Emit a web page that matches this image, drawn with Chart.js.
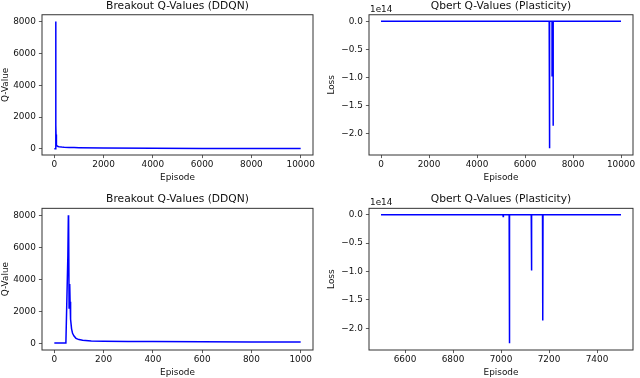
<!DOCTYPE html>
<html>
<head>
<meta charset="utf-8">
<title>Q-Values</title>
<script src="https://cdn.jsdelivr.net/npm/chart.js@4"></script>
<style>
  body { margin: 0; background: #fff; }
  #wrap { position: relative; width: 640px; height: 378px; overflow: hidden; background: #fff; }
  canvas { position: absolute; }
</style>
</head>
<body>
<div id="wrap">
  <canvas id="breakout-full" width="320" height="190" style="left:0;top:0"></canvas>
  <canvas id="qbert-full" width="320" height="190" style="left:320px;top:0"></canvas>
  <canvas id="breakout-zoom" width="320" height="193" style="left:0;top:185px"></canvas>
  <canvas id="qbert-zoom" width="320" height="193" style="left:320px;top:185px"></canvas>
</div>
<script>
'use strict';

// ******* DATA *******
let breakoutEpisodes = [0, 47, 55, 57, 58, 60, 62, 63, 64, 66, 70, 74, 80, 88, 100, 115, 150, 200, 300, 400, 600, 800, 1000, 2000, 4000, 6000, 8000, 10000];
let breakoutQ = [15, 15, 5500, 8000, 7800, 2200, 3000, 3700, 2600, 1500, 900, 620, 450, 310, 230, 190, 150, 130, 115, 105, 95, 85, 75, 55, 40, 32, 28, 25];

let qbertEpisodes = [0, 6500, 7008, 7009, 7010, 7034, 7035, 7036, 7126, 7127, 7128, 7173, 7174, 7175, 7500, 10000];
let qbertLoss = [0, 0, 0, -0.03e14, 0, 0, -2.26e14, 0, 0, -0.98e14, 0, 0, -1.86e14, 0, 0, 0];

// tick labels
let breakoutTicksY = [0, 2000, 4000, 6000, 8000];
let qbertTicksY = [-2.0e14, -1.5e14, -1.0e14, -0.5e14, 0];
let fullTicksX = [0, 2000, 4000, 6000, 8000, 10000];
let breakoutZoomTicksX = [0, 200, 400, 600, 800, 1000];
let qbertZoomTicksX = [6600, 6800, 7000, 7200, 7400];

// ***** HELPERS *****
Chart.defaults.font.family = 'DejaVu Sans';
Chart.defaults.color = '#111';

function makePoints(xs, ys, lo, hi) {
  let pts = [];
  for (let i = 0; i < xs.length; i++) {
    if (xs[i] >= lo && xs[i] <= hi) {
      pts.push({ x: xs[i], y: ys[i] });
    }
  }
  return pts;
}

function fixedTicks(values) {
  return function (scale) {
    scale.ticks = values.map(v => ({ value: v }));
  };
}

function plainNumber(v) {
  return String(v);
}

function sciNumber(v) {
  return (v / 1e14).toFixed(1).replace('-', '\u2212');
}

// box around the plot area, like matplotlib spines
const frame = {
  id: 'frame',
  afterDraw(chart) {
    let a = chart.chartArea;
    let ctx = chart.ctx;
    ctx.save();
    ctx.strokeStyle = '#333';
    ctx.lineWidth = 1;
    ctx.strokeRect(a.left, a.top, a.right - a.left, a.bottom - a.top);
    ctx.restore();
  }
};

// "1e14" offset label above the y axis
const offsetText = {
  id: 'offsetText',
  afterDraw(chart, args, opts) {
    if (!opts.text) return;
    let a = chart.chartArea;
    let ctx = chart.ctx;
    ctx.save();
    ctx.fillStyle = '#111';
    ctx.font = '8.9px "DejaVu Sans"';
    ctx.textAlign = 'left';
    ctx.textBaseline = 'middle';
    ctx.fillText(opts.text, a.left + 1, a.top - 5.5);
    ctx.restore();
  }
};

function renderPanel(id, p) {
  const config = {
    type: 'line',
    data: {
      datasets: [{
        data: p.points,
        borderColor: 'rgb(0, 0, 255)',
        borderWidth: 1.5,
        pointRadius: 0,
        tension: 0,
        fill: false
      }]
    },
    options: {
      responsive: false,
      animation: false,
      events: [],
      layout: { padding: { left: 0, right: 7, top: 0, bottom: p.padBottom } },
      plugins: {
        legend: { display: false },
        tooltip: { enabled: false },
        title: {
          display: true,
          text: p.title,
          fullSize: false,
          color: '#111',
          font: { size: 10.7, weight: 'normal' },
          padding: { top: p.titleTop, bottom: p.titleBottom }
        },
        offsetText: { text: p.offset || '' }
      },
      scales: {
        x: {
          type: 'linear',
          min: p.xMin,
          max: p.xMax,
          afterBuildTicks: fixedTicks(p.xTicks),
          afterFit: s => { s.height = 28; },
          border: { display: false },
          grid: { drawOnChartArea: false, drawTicks: true, tickLength: 3.1, tickColor: '#333', tickWidth: 0.8 },
          ticks: { padding: 1.2, font: { size: 8.9 }, maxRotation: 0, autoSkip: false, callback: plainNumber },
          title: { display: true, text: 'Episode', font: { size: 8.9 }, padding: { top: 0, bottom: 0 } }
        },
        y: {
          type: 'linear',
          min: p.yMin,
          max: p.yMax,
          afterBuildTicks: fixedTicks(p.yTicks),
          afterFit: s => { s.width = p.yWidth; },
          border: { display: false },
          grid: { drawOnChartArea: false, drawTicks: true, tickLength: 3.1, tickColor: '#333', tickWidth: 0.8 },
          ticks: { padding: 3.1, font: { size: 8.9 }, autoSkip: false, callback: p.format },
          title: { display: true, text: p.yTitle, font: { size: 8.9 }, padding: { top: p.yTitlePad, bottom: 0 } }
        }
      }
    },
    plugins: [frame, offsetText]
  };
  return new Chart(document.getElementById(id), config);
}

// **** EXECUTABLE CODE *****

renderPanel('breakout-full', {
  title: 'Breakout Q-Values (DDQN)', yTitle: 'Q-Value',
  points: makePoints(breakoutEpisodes, breakoutQ, 0, 10000),
  xMin: -500, xMax: 10500, xTicks: fullTicksX,
  yMin: -380, yMax: 8430, yTicks: breakoutTicksY, format: plainNumber,
  yWidth: 42, yTitlePad: 0, titleTop: 0, titleBottom: 1.9, padBottom: 7
});

renderPanel('qbert-full', {
  title: 'Qbert Q-Values (Plasticity)', yTitle: 'Loss', offset: '1e14',
  points: makePoints(qbertEpisodes, qbertLoss, 0, 10000),
  xMin: -500, xMax: 10500, xTicks: fullTicksX,
  yMin: -2.38e14, yMax: 0.118e14, yTicks: qbertTicksY, format: sciNumber,
  yWidth: 49, yTitlePad: 6.2, titleTop: 0, titleBottom: 1.9, padBottom: 7
});

renderPanel('breakout-zoom', {
  title: 'Breakout Q-Values (DDQN)', yTitle: 'Q-Value',
  points: makePoints(breakoutEpisodes, breakoutQ, 0, 1000),
  xMin: -50, xMax: 1050, xTicks: breakoutZoomTicksX,
  yMin: -420, yMax: 8430, yTicks: breakoutTicksY, format: plainNumber,
  yWidth: 42, yTitlePad: 0, titleTop: 7.6, titleBottom: 2.9, padBottom: 0
});

renderPanel('qbert-zoom', {
  title: 'Qbert Q-Values (Plasticity)', yTitle: 'Loss', offset: '1e14',
  points: makePoints(qbertEpisodes, qbertLoss, 6500, 7500),
  xMin: 6450, xMax: 7550, xTicks: qbertZoomTicksX,
  yMin: -2.38e14, yMax: 0.113e14, yTicks: qbertTicksY, format: sciNumber,
  yWidth: 49, yTitlePad: 6.2, titleTop: 7.6, titleBottom: 2.9, padBottom: 0
});
</script>
</body>
</html>
